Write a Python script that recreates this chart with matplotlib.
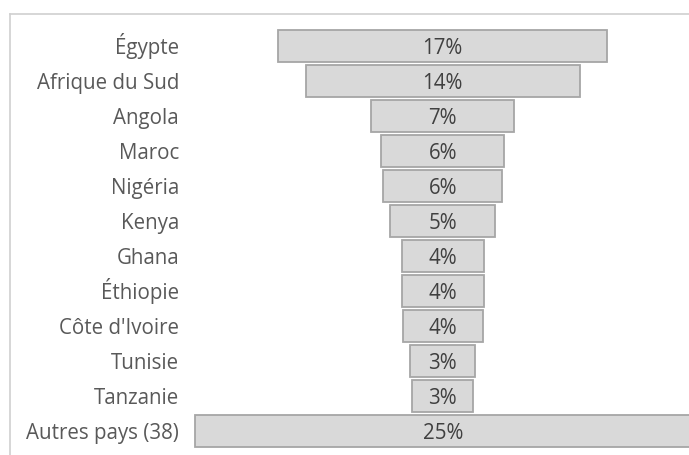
import matplotlib
matplotlib.use("Agg")
import matplotlib.pyplot as plt
from matplotlib.lines import Line2D
import numpy as np

countries = ["Égypte", "Afrique du Sud", "Angola", "Maroc", "Nigéria", "Kenya",
             "Ghana", "Éthiopie", "Côte d'Ivoire", "Tunisie", "Tanzanie", "Autres pays (38)"]
shares = [16.8, 14.0, 7.3, 6.3, 6.1, 5.4, 4.2, 4.2, 4.1, 3.3, 3.1, 25.3]
labels = ["17%", "14%", "7%", "6%", "6%", "5%", "4%", "4%", "4%", "3%", "3%", "25%"]

W, H = 689, 455
fig = plt.figure(figsize=(W / 100, H / 100), dpi=100)
ax = fig.add_axes([0, 0, 1, 1])

cx = 442.7     # pixel centre of funnel
ppu = 19.55    # pixels per percent
y0 = 45.8      # pixel centre of first row
pitch = 35.0

ax.set_xlim(-cx / ppu, (W - cx) / ppu)
ax.set_ylim((H - y0) / pitch, -y0 / pitch)
ax.axis("off")

vals = np.array(shares)
ypos = np.arange(len(countries))
ax.barh(ypos, vals, left=-vals / 2, height=0.9, color="#d9d9d9",
        edgecolor="#a6a6a6", linewidth=1.3)

font = "Open Sans"
off = 8.0 / pitch
for y, c, lab in zip(ypos, countries, labels):
    ax.text((179 - cx) / ppu, y + off, c, ha="right", va="baseline", fontsize=14.8,
            color="#595959", family=font)
    ax.text(0, y + off, lab, ha="center", va="baseline", fontsize=14.8,
            color="#404040", family=font)

# frame
fig.add_artist(Line2D([10 / W, 10 / W], [1 - 14 / H, 0], transform=fig.transFigure,
                      color="#d0d0d0", linewidth=1.2))
fig.add_artist(Line2D([10 / W, 1], [1 - 14 / H, 1 - 14 / H], transform=fig.transFigure,
                      color="#d0d0d0", linewidth=1.2))

fig.savefig("out.png", dpi=100)
